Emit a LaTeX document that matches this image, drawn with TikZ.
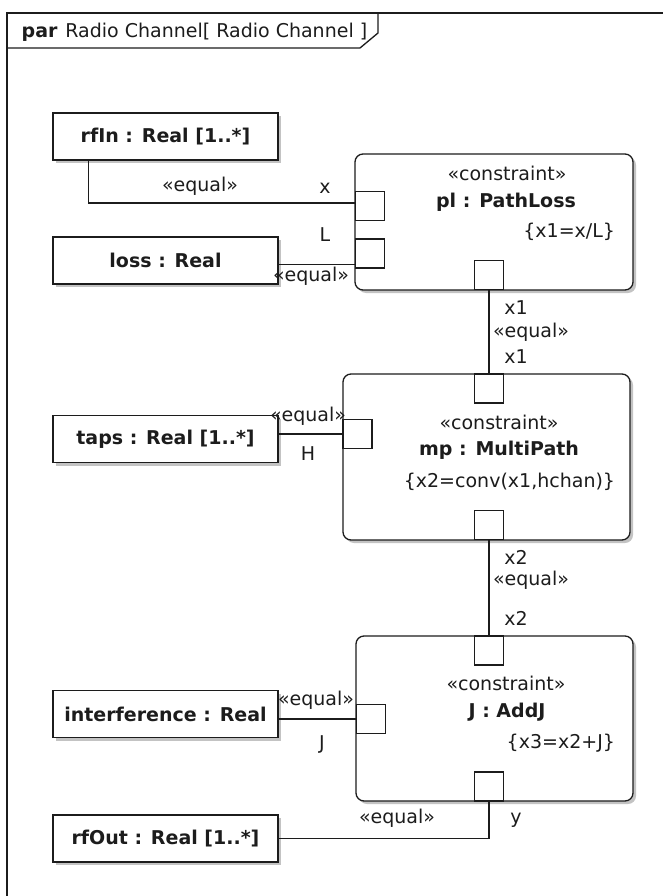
\documentclass[tikz,border=0pt]{standalone}
\usepackage{fontspec}
\setmainfont{DejaVu Sans}
\usetikzlibrary{shadows}
\definecolor{ink}{RGB}{28,28,28}
\definecolor{shade}{RGB}{195,195,195}
\newcommand{\diafont}{\fontsize{19}{21}\selectfont}
\begin{document}
\begin{tikzpicture}[x = 1pt, y = -1pt, line width = 1.3pt,
    every node/.style = {font = \diafont, text = ink},
    valbox/.style = {draw = ink, fill = white, minimum width = 225pt, minimum height = 47pt, inner sep = 0pt,
        font = \diafont\bfseries, drop shadow = {shadow xshift = 3pt, shadow yshift = -3pt, fill = shade, opacity = 1}},
    cblock/.style = {draw = ink, fill = white, rounded corners = 8pt, inner sep = 0pt,
        drop shadow = {shadow xshift = 3pt, shadow yshift = -3pt, fill = shade, opacity = 1}},
    port/.style = {draw = ink, fill = white, minimum size = 29pt, inner sep = 0pt},
    lbl/.style = {inner sep = 0pt}]
    \useasboundingbox (0, 0) rectangle (663, 896);
    % frame and its tab
    \draw[ink] (670, 13) -- (7, 13) -- (7, 900);
    \draw[ink] (7, 48) -- (360, 48) -- (378, 33) -- (378, 13);
    \node[anchor = base west, inner sep = 0pt] (title) at (21, 38) {\textbf{par}\hspace{8pt}Radio Channel[ Radio Channel ]};
    % value properties
    \node[valbox] (rfIn) at (165.5, 136.5) {rfIn : Real [1..*]};
    \node[valbox] (loss) at (165.5, 260.5) {loss : Real};
    \node[valbox] (taps) at (165.5, 439) {taps : Real [1..*]};
    \node[valbox] (interf) at (165.5, 714) {interference : Real};
    \node[valbox] (rfOut) at (165.5, 838.5) {rfOut : Real [1..*]};
    % constraint blocks
    \node[cblock, minimum width = 278pt, minimum height = 136pt] (pl) at (494, 222) {};
    \node[cblock, minimum width = 287pt, minimum height = 166pt] (mp) at (486.5, 457) {};
    \node[cblock, minimum width = 277pt, minimum height = 165pt] (addJ) at (494.5, 718.5) {};
    \node (plSt) at (507, 173) {«constraint»};
    \node[font = \diafont\bfseries] (plName) at (506, 202) {pl : PathLoss};
    \node[anchor = east] (plExpr) at (619, 232) {\{x1=x/L\}};
    \node (mpSt) at (499, 422) {«constraint»};
    \node[font = \diafont\bfseries] (mpName) at (499, 450) {mp : MultiPath};
    \node[anchor = east] (mpExpr) at (619, 482) {\{x2=conv(x1,hchan)\}};
    \node (jSt) at (506, 683) {«constraint»};
    \node[font = \diafont\bfseries] (jName) at (507, 712) {J : AddJ};
    \node[anchor = east] (jExpr) at (619, 743) {\{x3=x2+J\}};
    % parameters
    \node[port] (px) at (370, 206) {};
    \node[port] (pL) at (370, 253.5) {};
    \node[port] (plb) at (489, 275) {};
    \node[port] (mpt) at (489, 388.5) {};
    \node[port] (pH) at (357.5, 434) {};
    \node[port] (mpb) at (489, 525) {};
    \node[port] (jt) at (489, 650.5) {};
    \node[port] (pJ) at (371, 719) {};
    \node[port] (jb) at (489, 786.5) {};
    % binding connectors
    \coordinate (rfInS) at ([xshift = -77pt]rfIn.south);
    \coordinate (pxW) at ([yshift = 3pt]px.west);
    \coordinate (lossE) at ([yshift = -4pt]loss.east);
    \draw[ink] (rfInS) |- (pxW);
    \draw[ink] (lossE) -- (lossE -| pL.west);
    \draw[ink] (plb.south) -- (mpt.north);
    \draw[ink] (pH.west -| taps.east) -- (pH.west);
    \draw[ink] (mpb.south) -- (jt.north);
    \draw[ink] (pJ.west -| interf.east) -- (pJ.west);
    \draw[ink] (rfOut.east) -| (jb.south);
    % connector labels
    \node[lbl] (eq1) at (200, 186) {«equal»};
    \node[lbl] (nx) at (325, 188) {x};
    \node[lbl] (nL) at (325, 235) {L};
    \node[lbl] (eq2) at (311, 276) {«equal»};
    \node[lbl] (nx1a) at (516, 308) {x1};
    \node[lbl] (eq3) at (531, 332) {«equal»};
    \node[lbl] (nx1b) at (516, 357) {x1};
    \node[lbl] (eq4) at (308, 416) {«equal»};
    \node[lbl] (nH) at (308, 454) {H};
    \node[lbl] (nx2a) at (516, 557) {x2};
    \node[lbl] (eq5) at (531, 580) {«equal»};
    \node[lbl] (nx2b) at (516, 618) {x2};
    \node[lbl] (eq6) at (316, 700) {«equal»};
    \node[lbl] (nJ) at (322, 744) {J};
    \node[lbl] (eq7) at (397, 818) {«equal»};
    \node[lbl] (ny) at (516, 820) {y};
\end{tikzpicture}
\end{document}
